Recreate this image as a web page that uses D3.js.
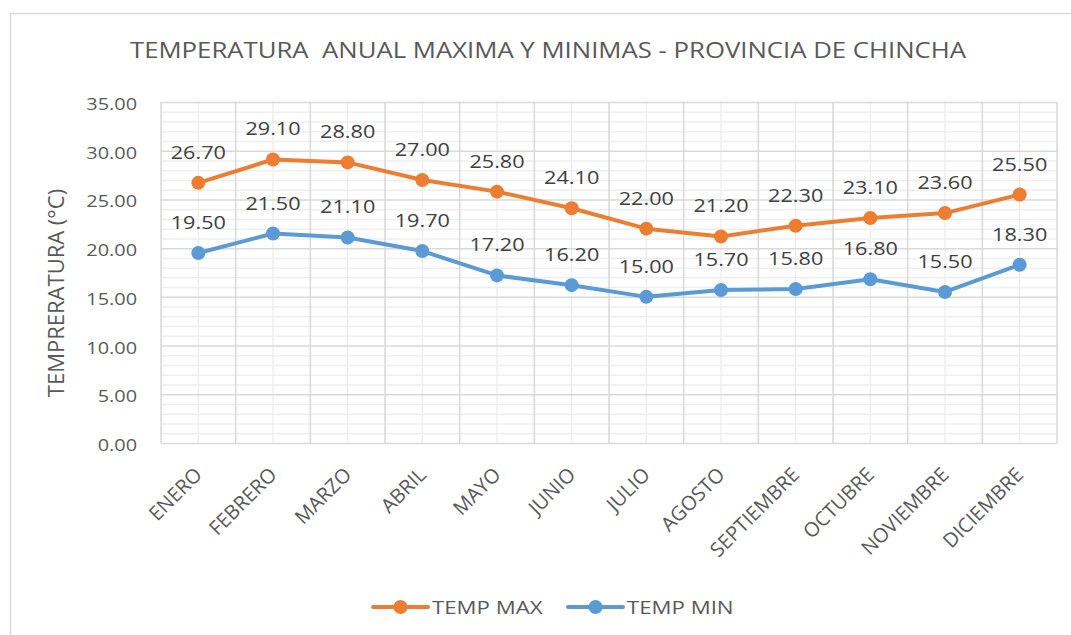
<!DOCTYPE html>
<html lang="es">
<head>
<meta charset="UTF-8">
<title>Temperatura anual - Chincha</title>
<script src="https://d3js.org/d3.v7.min.js"></script>
<style>
    body { margin: 0; background: #fff; }
    text { font-family: "Open Sans", sans-serif; fill: #595959; }
</style>
</head>
<body>
<svg id="chart" width="1071" height="635"></svg>
<script>
const months = ['ENERO', 'FEBRERO', 'MARZO', 'ABRIL', 'MAYO', 'JUNIO', 'JULIO',
    'AGOSTO', 'SEPTIEMBRE', 'OCTUBRE', 'NOVIEMBRE', 'DICIEMBRE'];
const tempMax = [26.7, 29.1, 28.8, 27.0, 25.8, 24.1, 22.0, 21.2, 22.3, 23.1, 23.6, 25.5];
const tempMin = [19.5, 21.5, 21.1, 19.7, 17.2, 16.2, 15.0, 15.7, 15.8, 16.8, 15.5, 18.3];
const yTicks = [0, 5, 10, 15, 20, 25, 30, 35];
const seriesNames = ['TEMP MAX', 'TEMP MIN'];
const seriesColors = ['#ED7D31', '#5B9BD5'];

const svg = d3.select('#chart');
const plotL = 161, plotR = 1057, plotT = 102, plotB = 443;
// the reference text is wider than Open Sans, so stretch it sideways a little
const SX = 1.17;
const place = (px, py, rot) => `translate(${px},${py}) scale(${SX},1)` + (rot ? ` rotate(${rot})` : '');

// outer chart border (runs off the bottom/right of the picture)
svg.append('rect')
    .attr('x', 10.5).attr('y', 13.5)
    .attr('width', 1100).attr('height', 700)
    .attr('fill', 'none').attr('stroke', '#d9d9d9').attr('stroke-width', 1.5);

const x = d3.scaleBand().domain(months).range([plotL, plotR]);
const y = d3.scaleLinear().domain([0, 35]).range([plotB, plotT]);
const cx = d => x(d) + x.bandwidth() / 2;

// minor grid
const minor = d3.range(0, 36, 1).filter(v => v % 5 !== 0);
svg.append('g').selectAll('line').data(minor).join('line')
    .attr('x1', plotL).attr('x2', plotR)
    .attr('y1', d => y(d) + 0.5).attr('y2', d => y(d) + 0.5)
    .attr('stroke', '#efefef').attr('stroke-width', 1.5);
svg.append('g').selectAll('line').data(months).join('line')
    .attr('x1', cx).attr('x2', cx)
    .attr('y1', plotT).attr('y2', plotB)
    .attr('stroke', '#efefef').attr('stroke-width', 1.5);

// major grid
svg.append('g').selectAll('line').data(yTicks).join('line')
    .attr('x1', plotL).attr('x2', plotR)
    .attr('y1', d => y(d) + 0.5).attr('y2', d => y(d) + 0.5)
    .attr('stroke', '#d9d9d9').attr('stroke-width', 1.5);
const bounds = months.map(d => x(d)).concat([plotR]);
svg.append('g').selectAll('line').data(bounds).join('line')
    .attr('x1', d => d).attr('x2', d => d)
    .attr('y1', plotT).attr('y2', plotB)
    .attr('stroke', '#d9d9d9').attr('stroke-width', 1.5);

// y axis labels
svg.append('g').selectAll('text').data(yTicks).join('text')
    .attr('transform', d => place(137, y(d) + 8))
    .attr('text-anchor', 'end')
    .attr('font-size', 17)
    .text(d => d.toFixed(2));

// x axis labels (plain 45 degrees, no stretch)
svg.append('g').selectAll('text').data(months).join('text')
    .attr('transform', d => `translate(${cx(d) + 5},476) rotate(-45)`)
    .attr('text-anchor', 'end')
    .attr('font-size', 20)
    .text(d => d);

// title
svg.append('text')
    .attr('transform', place(548, 58))
    .attr('text-anchor', 'middle')
    .attr('font-size', 22)
    .style('white-space', 'pre')
    .text('TEMPERATURA  ANUAL MAXIMA Y MINIMAS - PROVINCIA DE CHINCHA');

// y axis title
svg.append('text')
    .attr('transform', `translate(64,293) rotate(-90)`)
    .attr('text-anchor', 'middle')
    .attr('font-size', 22)
    .text('TEMPRERATURA (°C)');

// series
const line = d3.line()
    .x((d, i) => cx(months[i]))
    .y(d => y(d));

[tempMax, tempMin].forEach((vals, s) => {
    const g = svg.append('g');
    g.append('path')
        .attr('d', line(vals))
        .attr('fill', 'none')
        .attr('stroke', seriesColors[s])
        .attr('stroke-width', 4)
        .attr('stroke-linejoin', 'round');
    g.selectAll('circle').data(vals).join('circle')
        .attr('cx', (d, i) => cx(months[i]))
        .attr('cy', d => y(d))
        .attr('r', 7)
        .attr('fill', seriesColors[s]);
    g.selectAll('text').data(vals).join('text')
        .attr('transform', (d, i) => place(cx(months[i]), y(d) - 24))
        .attr('text-anchor', 'middle')
        .attr('font-size', 18.5)
        .style('fill', '#404040')
        .text(d => d.toFixed(2));
});

// legend
const legendX = [373, 568];
seriesNames.forEach((name, s) => {
    const lg = svg.append('g').attr('transform', `translate(${legendX[s]},607)`);
    lg.append('line')
        .attr('x1', 0).attr('x2', 55)
        .attr('stroke', seriesColors[s]).attr('stroke-width', 4)
        .attr('stroke-linecap', 'round');
    lg.append('circle').attr('cx', 27.5).attr('r', 7).attr('fill', seriesColors[s]);
    lg.append('text')
        .attr('transform', place(59, 7))
        .attr('font-size', 19)
        .text(name);
});
</script>
</body>
</html>
